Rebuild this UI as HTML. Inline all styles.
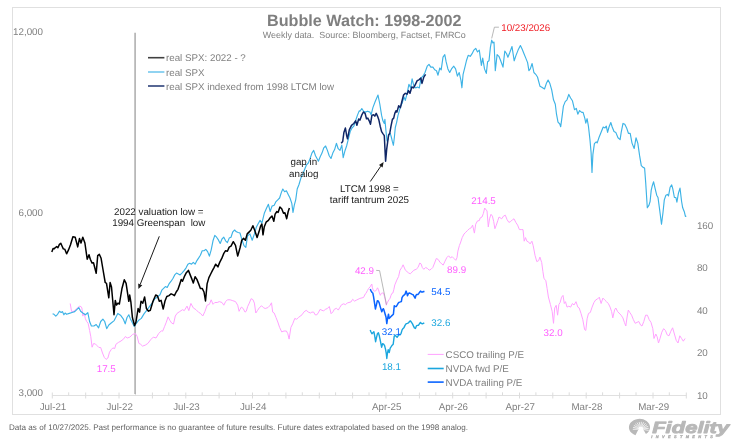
<!DOCTYPE html>
<html><head><meta charset="utf-8"><style>
html,body{margin:0;padding:0;background:#fff;width:749px;height:445px;overflow:hidden}
svg{display:block;font-family:'Liberation Sans', Arial, sans-serif;text-rendering:geometricPrecision;will-change:transform}
text{white-space:pre}
</style></head><body>
<svg width="749" height="445" viewBox="0 0 749 445">
<rect width="749" height="445" fill="#fff"/>
<rect x="12.5" y="7.5" width="708" height="407" fill="none" stroke="#e0e0e0" stroke-width="1"/>
<text x="267.0" y="25.8" font-size="16.2" font-weight="bold" fill="#7f7f7f">Bubble Watch: 1998-2002</text>
<text x="262.8" y="37.9" font-size="8.95" fill="#7f7f7f" xml:space="preserve">Weekly data.  Source: Bloomberg, Factset, FMRCo</text>
<text x="43" y="35.2" font-size="9.8" fill="#808080" text-anchor="end">12,000</text>
<text x="43" y="215.6" font-size="9.8" fill="#808080" text-anchor="end">6,000</text>
<text x="43" y="396.2" font-size="9.8" fill="#808080" text-anchor="end">3,000</text>
<text x="696.9" y="229.0" font-size="9.8" fill="#808080">160</text>
<text x="696.9" y="271.4" font-size="9.8" fill="#808080">80</text>
<text x="696.9" y="313.8" font-size="9.8" fill="#808080">40</text>
<text x="696.9" y="356.2" font-size="9.8" fill="#808080">20</text>
<text x="696.9" y="398.6" font-size="9.8" fill="#808080">10</text>
<line x1="52.3" y1="395.5" x2="686.6" y2="395.5" stroke="#e0e0e0" stroke-width="1"/>
<path d="M52.3,392.5V398.5 M68.7,392.3V395.5 M85.7,392.5V398.5 M102.1,392.3V395.5 M119.0,392.5V398.5 M135.4,392.3V395.5 M152.4,392.5V398.5 M168.8,392.3V395.5 M185.8,392.5V398.5 M202.2,392.3V395.5 M219.1,392.5V398.5 M235.5,392.3V395.5 M252.5,392.5V398.5 M268.9,392.3V395.5 M285.9,392.5V398.5 M302.3,392.3V395.5 M319.3,392.5V398.5 M335.6,392.3V395.5 M352.6,392.5V398.5 M369.0,392.3V395.5 M386.0,392.5V398.5 M402.4,392.3V395.5 M419.4,392.5V398.5 M435.8,392.3V395.5 M452.7,392.5V398.5 M469.1,392.3V395.5 M486.1,392.5V398.5 M502.5,392.3V395.5 M519.5,392.5V398.5 M535.9,392.3V395.5 M552.8,392.5V398.5 M569.2,392.3V395.5 M586.2,392.5V398.5 M602.6,392.3V395.5 M619.6,392.5V398.5 M636.0,392.3V395.5 M653.0,392.5V398.5 M669.3,392.3V395.5 M686.3,392.5V398.5" stroke="#dcdcdc" stroke-width="1" fill="none"/>
<text x="53.0" y="410.1" font-size="9.75" fill="#808080" text-anchor="middle">Jul-21</text>
<text x="119.7" y="410.1" font-size="9.75" fill="#808080" text-anchor="middle">Jul-22</text>
<text x="186.5" y="410.1" font-size="9.75" fill="#808080" text-anchor="middle">Jul-23</text>
<text x="253.2" y="410.1" font-size="9.75" fill="#808080" text-anchor="middle">Jul-24</text>
<text x="386.7" y="410.1" font-size="9.75" fill="#808080" text-anchor="middle">Apr-25</text>
<text x="453.4" y="410.1" font-size="9.75" fill="#808080" text-anchor="middle">Apr-26</text>
<text x="520.2" y="410.1" font-size="9.75" fill="#808080" text-anchor="middle">Apr-27</text>
<text x="586.9" y="410.1" font-size="9.75" fill="#808080" text-anchor="middle">Mar-28</text>
<text x="653.7" y="410.1" font-size="9.75" fill="#808080" text-anchor="middle">Mar-29</text>
<line x1="135.1" y1="32.7" x2="135.1" y2="394" stroke="#b0b0b0" stroke-width="1.6"/>
<polyline points="70.2,303.5 71.6,311.6 73.8,311.2 76.5,308.9 79.2,306.2 81.0,306.5 81.9,308.0 82.8,316.1 84.2,313.4 85.4,318.8 86.7,321.5 88.1,323.3 89.6,330.4 90.8,336.7 92.1,347.2 93.5,343.6 95.3,343.9 97.1,345.7 98.9,347.5 100.7,347.5 102.5,353.0 104.3,357.4 106.1,359.4 107.9,358.0 109.5,352.2 111.3,349.5 112.9,347.9 114.7,348.6 115.9,344.3 118.3,342.5 121.0,341.0 123.7,338.9 125.4,336.5 127.2,338.0 129.9,337.1 132.6,334.4 135.3,333.5 137.1,336.2 138.9,343.4 140.7,344.3 142.5,346.1 145.2,345.2 147.9,343.4 150.6,339.8 153.3,337.1 156.0,338.0 158.7,333.5 161.4,330.8 162.7,331.2 164.5,326.7 166.3,322.2 168.1,316.9 169.9,320.4 171.7,323.1 173.5,324.0 175.3,316.0 177.1,313.3 179.8,311.5 182.5,309.7 184.3,310.6 187.0,306.1 188.8,310.6 190.9,303.4 193.3,307.9 196.0,309.7 198.7,312.4 200.4,313.3 202.8,316.0 204.9,311.5 207.1,305.2 209.4,304.3 211.2,299.8 213.0,304.3 214.8,302.5 217.2,302.5 219.3,301.6 222.0,302.5 223.8,305.2 225.6,301.6 227.4,299.8 230.1,299.8 232.8,300.7 235.5,301.6 237.7,305.2 239.1,311.3 240.0,309.4 241.4,307.1 243.2,308.5 245.0,312.1 246.3,311.2 247.6,306.7 249.3,303.1 251.1,298.7 252.9,299.6 254.4,303.1 255.8,313.0 257.6,310.3 259.4,307.6 261.6,305.8 263.4,307.6 265.2,308.5 267.9,307.6 269.7,305.8 271.5,302.8 272.7,312.1 274.2,313.0 276.0,317.5 277.8,322.0 279.6,327.4 281.7,331.9 284.0,331.0 286.4,331.0 287.8,333.7 289.1,339.1 290.9,327.4 292.7,323.8 294.8,318.4 296.6,319.3 298.4,317.5 302.0,314.8 303.8,312.1 306.2,310.3 308.3,312.1 310.5,313.0 311.9,312.1 313.7,312.1 315.1,314.8 316.9,314.8 318.7,312.1 320.0,309.4 323.6,311.0 325.4,309.2 327.2,308.7 329.3,306.5 331.1,313.7 332.9,311.9 334.4,309.2 336.5,308.3 338.3,310.1 339.8,307.4 341.6,304.7 343.7,303.8 345.5,304.7 347.3,302.9 350.9,302.0 352.7,299.3 354.5,301.1 356.3,300.2 359.9,298.4 363.5,297.5 365.3,293.9 366.0,293.4 367.4,290.6 368.8,288.2 370.2,286.8 371.2,284.9 371.8,284.0 372.4,287.8 373.4,290.6 374.5,291.1 375.4,291.1 376.6,289.7 377.5,287.8 378.5,289.7 379.4,293.0 380.3,295.3 381.3,293.4 382.2,293.0 383.5,293.0 384.4,296.3 385.3,300.0 386.3,305.2 387.2,302.9 388.2,301.0 389.1,299.6 390.1,298.2 391.0,295.3 391.9,293.4 392.9,293.0 393.8,289.7 394.8,284.9 395.2,284.0 396.8,280.1 398.6,276.5 400.0,270.2 401.8,267.5 403.1,264.8 405.4,270.2 408.5,272.9 410.3,273.8 412.1,272.0 413.9,270.2 416.2,269.3 418.0,267.5 419.8,263.0 421.1,263.9 422.3,267.5 423.8,269.3 425.6,267.5 427.4,268.4 429.2,270.2 431.0,269.3 432.8,267.5 434.6,263.0 436.3,258.5 438.1,259.4 439.9,262.1 441.7,263.9 443.2,265.1 445.0,261.2 446.8,257.6 448.6,255.8 450.4,257.9 452.2,256.7 454.0,258.5 455.8,260.3 457.0,257.6 457.9,251.1 459.4,245.5 460.4,243.0 462.2,237.6 464.0,234.0 465.8,232.2 467.6,230.4 469.4,228.7 471.2,227.8 472.6,225.1 474.4,233.1 475.7,224.2 477.5,220.9 479.3,220.6 480.2,217.9 482.0,217.0 483.4,213.4 484.7,208.0 485.9,209.8 487.0,210.7 488.3,226.9 489.5,218.8 491.0,214.3 492.4,216.1 493.7,221.5 494.9,228.7 496.3,225.1 497.8,220.6 499.0,217.0 501.7,218.8 503.5,216.1 505.3,215.2 507.1,219.7 508.9,222.4 510.7,221.5 512.5,219.7 514.0,218.8 515.8,222.4 517.6,225.1 519.4,229.6 521.2,229.6 523.0,229.6 524.2,241.2 525.5,237.6 526.9,241.2 528.7,242.1 530.1,243.9 531.9,241.2 533.2,245.7 535.0,255.3 536.8,261.6 538.6,260.7 539.9,257.1 541.7,262.5 542.9,271.5 544.0,278.7 545.8,280.4 547.1,288.5 548.4,297.0 550.4,304.4 552.2,311.6 553.5,323.3 554.7,308.0 556.2,305.3 557.6,315.2 558.9,304.4 560.1,302.6 561.6,297.2 563.0,295.4 564.3,303.5 565.5,301.7 567.0,307.1 568.8,306.2 570.6,307.1 572.4,303.5 574.0,305.0 576.0,301.7 577.8,307.1 579.2,308.0 581.0,313.4 582.8,319.7 584.6,329.6 585.8,330.4 587.1,318.8 588.5,313.4 590.3,312.5 592.1,307.1 593.9,302.6 595.7,299.9 597.5,299.0 599.3,297.2 601.1,303.5 602.9,298.1 604.7,299.9 606.5,301.7 608.3,303.5 610.1,307.1 611.6,311.6 612.8,317.9 614.6,309.8 615.8,308.0 617.6,311.6 621.1,315.2 622.9,317.9 624.4,322.4 625.8,326.0 627.1,317.0 628.3,310.1 629.8,312.5 631.6,315.2 633.4,319.7 635.2,323.3 637.0,322.4 638.8,321.5 640.6,325.1 642.0,326.0 643.8,321.5 645.6,315.2 647.4,315.2 649.2,319.7 651.0,322.4 652.8,328.7 654.0,338.5 655.8,334.0 657.1,336.7 658.5,343.0 660.0,338.5 661.8,332.2 663.6,328.7 665.4,330.4 667.2,334.9 669.0,335.8 670.8,331.3 672.6,327.8 674.4,334.0 676.2,340.3 678.0,343.0 679.8,335.8 681.6,338.5 683.3,341.2 685.1,338.5" fill="none" stroke="#ffa2ff" stroke-width="1" stroke-linejoin="round"/>
<polyline points="52.6,313.7 54.0,314.3 55.8,316.1 57.6,314.3 59.4,311.2 61.2,312.5 62.4,311.6 63.9,314.8 65.1,313.0 66.6,314.3 69.3,313.4 72.0,312.5 74.7,311.6 76.5,309.8 78.8,307.6 80.6,311.2 82.8,313.0 85.4,314.8 87.8,312.7 89.6,321.5 91.4,326.0 93.9,326.0 96.2,324.5 98.6,327.8 100.7,321.5 102.9,319.1 104.7,321.5 106.7,328.7 108.8,325.0 111.5,322.7 114.2,320.6 116.0,317.0 117.8,313.4 120.5,315.2 123.2,318.8 125.2,323.8 127.0,317.5 128.8,314.8 130.2,318.4 131.5,321.1 134.2,326.5 136.0,323.8 138.7,320.2 141.3,318.4 144.0,313.9 146.7,310.3 149.4,306.7 152.1,303.1 154.8,298.7 157.5,296.9 160.0,294.7 161.8,290.2 163.6,288.4 165.4,286.6 167.2,287.5 169.0,283.9 171.1,281.2 172.9,278.5 174.7,274.9 176.5,273.1 178.3,274.0 180.1,274.9 181.9,273.1 184.3,270.4 186.1,267.8 187.9,264.2 189.7,263.3 191.5,264.2 193.3,262.4 195.1,264.2 196.9,260.6 198.7,257.9 200.4,255.2 202.2,250.7 204.0,250.7 205.8,249.4 207.6,251.6 209.4,256.1 211.2,249.8 213.0,240.8 214.8,235.4 216.6,237.2 218.4,239.9 220.2,243.5 222.0,239.0 223.8,237.2 225.6,240.8 227.4,242.6 229.2,238.1 231.0,237.2 232.8,231.8 234.6,230.0 236.4,231.8 238.2,232.5 240.0,233.0 241.8,239.3 244.0,245.6 245.8,247.4 247.6,235.7 249.9,233.9 252.2,240.2 254.4,233.9 256.2,227.6 258.0,224.0 260.1,220.4 261.9,223.1 264.3,213.3 266.6,207.9 268.4,204.3 270.2,211.5 272.0,206.1 274.2,205.2 276.0,201.6 277.8,199.8 279.6,198.0 281.3,192.6 282.8,189.0 284.6,191.7 286.4,190.8 288.2,194.4 290.0,198.0 291.8,203.4 293.0,212.4 294.3,205.2 295.7,199.8 297.2,189.0 299.0,184.5 300.8,178.3 302.9,173.8 304.7,169.3 306.5,164.8 308.3,163.0 310.1,158.5 311.9,153.1 313.7,150.4 315.5,155.8 317.0,158.5 318.4,161.2 320.2,156.7 322.0,153.1 323.8,147.8 325.6,146.0 327.4,150.4 329.2,155.8 331.0,158.5 332.8,153.1 334.6,149.6 336.4,143.3 338.2,148.7 340.0,150.4 341.8,145.1 343.2,157.6 344.8,151.3 346.6,146.0 348.4,138.8 350.2,131.6 352.0,128.0 353.8,126.2 355.6,120.8 357.4,115.4 359.2,110.9 360.0,111.2 361.8,108.5 363.6,111.2 365.4,112.1 367.6,111.2 369.9,112.1 371.1,114.8 372.9,107.6 375.3,101.3 378.0,95.1 379.8,104.0 381.6,115.4 382.9,120.8 384.3,123.5 384.9,119.4 385.9,130.2 387.0,141.0 388.0,139.7 389.0,134.3 390.3,133.6 391.3,137.0 392.4,141.7 393.4,145.3 394.4,137.0 395.3,127.5 396.7,122.1 398.0,115.4 399.4,110.7 400.4,106.7 402.2,103.1 404.0,96.9 405.3,100.4 407.1,93.3 408.9,84.3 410.7,87.9 412.1,78.9 413.9,86.1 415.7,87.9 417.5,87.0 419.3,87.9 421.1,78.0 422.9,76.2 425.0,72.5 427.2,66.2 429.0,64.4 430.8,67.1 432.9,67.1 434.7,69.8 436.5,70.7 438.0,75.2 439.8,68.0 441.2,69.8 443.0,57.2 444.8,54.6 446.1,61.7 447.9,68.9 449.7,72.5 451.5,68.9 453.8,66.2 455.6,68.9 457.4,76.1 459.2,72.5 461.0,80.6 461.9,87.8 463.1,74.3 464.9,67.1 466.4,60.8 468.2,55.4 470.3,56.3 472.1,53.7 473.9,50.1 475.7,48.3 477.5,51.9 479.3,50.1 481.4,65.3 482.7,58.1 484.5,68.9 486.3,73.4 487.6,61.7 489.0,60.8 490.4,47.4 491.7,40.2 492.9,42.9 494.0,42.0 495.3,70.7 497.1,54.6 498.9,56.3 500.7,60.8 503.0,67.1 504.8,51.0 506.6,53.7 507.9,57.2 509.7,52.8 512.0,46.5 514.2,60.8 516.0,55.4 518.1,50.1 520.4,45.6 522.2,49.2 524.0,53.7 525.8,58.1 527.6,62.6 528.9,70.7 530.3,68.9 532.1,63.5 533.9,72.5 535.7,74.3 537.5,77.0 540.0,86.3 541.8,87.2 544.5,89.0 546.3,83.6 548.1,80.0 549.9,83.6 551.7,89.9 553.5,99.8 555.3,104.3 556.5,114.2 558.0,122.2 559.8,124.0 560.7,126.7 561.9,117.8 563.4,106.1 565.2,101.6 567.0,99.8 568.8,94.4 570.6,98.0 572.4,100.7 574.5,109.7 576.3,108.4 577.8,114.2 579.6,110.6 581.7,112.4 583.1,112.4 584.9,118.7 585.8,123.1 587.1,118.7 588.5,126.7 590.0,140.2 591.1,152.6 592.0,172.4 592.9,154.4 594.4,143.6 596.2,141.8 597.2,142.9 599.0,137.5 601.4,131.5 603.2,127.0 605.0,127.9 606.3,126.1 607.6,132.4 609.0,127.0 610.8,122.5 612.2,127.0 614.0,131.5 615.8,132.4 618.0,137.8 620.1,139.6 621.2,132.4 623.0,123.4 624.8,124.3 626.6,127.9 628.4,133.3 630.2,133.3 632.0,143.1 634.2,148.5 636.0,137.8 637.8,143.1 639.6,155.7 641.3,165.6 643.1,167.4 644.6,168.0 645.7,182.6 647.3,207.8 648.9,205.4 650.1,201.5 651.2,190.4 652.3,185.7 653.6,181.8 655.2,188.9 656.7,195.2 658.0,197.5 659.6,209.3 661.5,224.3 663.0,212.5 664.3,199.9 665.9,195.2 667.4,194.4 668.5,196.0 670.1,187.3 671.7,184.9 672.8,188.9 674.4,197.5 675.9,197.5 676.9,202.2 678.5,192.8 680.0,188.1 681.6,201.5 682.7,207.8 684.3,211.7 685.4,216.4 686.3,215.9" fill="none" stroke="#3db3e6" stroke-width="1.15" stroke-linejoin="round"/>
<polyline points="51.8,252.0 53.1,248.4 54.3,248.7 55.4,247.5 56.7,246.6 57.9,247.8 59.4,244.4 60.8,243.3 62.1,246.2 63.3,248.9 64.8,249.3 66.6,253.8 68.4,250.2 70.5,244.8 72.9,236.7 75.2,237.2 77.7,246.9 79.5,238.5 81.0,243.0 82.8,237.2 84.9,243.0 87.2,259.2 89.0,254.7 90.3,259.2 92.1,263.1 93.5,262.8 96.2,273.2 97.7,255.6 99.3,254.3 101.1,258.3 102.9,269.0 105.2,282.5 106.5,283.4 108.8,297.8 110.1,282.5 111.5,287.0 114.0,314.8 115.3,300.4 116.5,305.0 118.0,303.1 119.4,304.0 120.7,296.0 121.9,288.8 124.3,279.8 126.1,283.4 128.8,301.3 129.7,295.0 130.9,302.2 132.4,317.5 134.5,325.6 136.0,322.0 138.1,308.5 139.6,312.1 141.0,301.3 142.8,303.1 144.6,296.9 146.4,308.5 148.5,311.2 150.3,310.3 153.0,301.3 155.7,295.0 157.5,296.0 159.3,301.3 161.1,300.4 163.2,309.1 165.0,301.0 166.8,296.5 169.0,295.6 171.1,293.8 172.9,294.7 174.4,295.6 176.2,292.0 178.0,289.3 179.8,283.9 181.2,279.4 182.5,281.2 184.3,276.7 186.1,273.1 188.4,270.4 190.2,274.9 192.0,279.4 193.3,283.0 195.1,276.7 196.9,279.4 198.7,283.9 200.4,288.4 202.2,288.4 204.0,292.0 205.5,301.0 207.1,283.9 208.9,277.6 210.7,274.0 212.5,270.4 213.9,267.8 215.7,264.2 217.9,266.9 219.7,262.4 222.0,257.9 223.8,253.4 225.6,250.7 227.4,251.2 229.2,247.1 231.0,246.2 233.3,241.7 235.5,245.3 237.7,256.1 240.0,248.0 241.8,240.2 243.6,238.4 245.4,240.2 247.2,233.9 249.0,232.1 250.8,230.3 252.9,225.8 254.7,230.3 257.1,237.5 258.9,232.1 260.7,225.8 261.9,224.0 263.0,234.8 264.3,226.7 266.1,222.2 268.4,220.4 270.2,217.8 272.0,216.0 273.8,221.3 275.1,214.2 276.9,211.5 278.1,212.4 279.9,207.0 281.7,208.8 283.5,213.3 284.9,212.7 286.7,218.7 288.2,211.5 289.4,207.9" fill="none" stroke="#000000" stroke-width="1.5" stroke-linejoin="round"/>
<polyline points="341.2,143.3 342.7,141.5 343.9,132.5 345.4,128.0 346.6,135.2 347.5,138.8 349.3,129.8 351.5,125.3 353.8,123.5 355.6,120.8 356.9,125.3 358.7,119.0 360.0,120.1 361.6,115.4 363.4,112.0 365.1,113.4 366.5,118.8 367.8,118.1 369.2,120.8 370.5,124.2 371.9,115.4 373.5,114.7 374.8,116.1 376.2,113.4 377.5,116.1 378.9,120.1 380.2,126.2 381.6,131.6 382.9,133.6 384.3,135.6 384.9,147.8 385.6,161.2 386.7,149.1 387.6,142.4 388.6,134.9 389.7,133.6 391.0,126.2 392.4,119.4 393.7,118.1 394.8,113.4 396.1,110.7 396.9,112.1 398.7,105.8 400.4,107.6 401.7,102.2 403.5,95.1 405.3,93.3 407.1,94.2 408.5,90.6 410.0,93.3 411.8,87.0 413.6,87.9 415.4,84.3 417.2,80.7 419.0,79.8 420.8,78.0 422.0,83.4 423.8,77.1 425.6,74.4" fill="none" stroke="#0f2666" stroke-width="1.5" stroke-linejoin="round"/>
<polyline points="370.2,329.9 370.9,331.8 371.9,333.8 372.9,332.8 373.9,331.8 374.7,335.8 375.6,341.7 376.4,337.8 377.4,333.8 378.4,332.8 379.3,335.8 380.3,340.7 381.6,347.2 382.6,343.7 383.6,344.2 384.6,345.7 385.6,349.6 386.3,353.6 386.8,358.5 387.4,353.6 388.2,349.6 389.2,352.6 390.2,348.1 391.2,346.7 392.2,345.2 393.2,344.2 394.2,336.3 395.2,335.3 396.1,336.3 397.1,337.3 398.1,335.8 399.1,334.3 400.1,334.8 401.1,333.3 402.1,329.9 403.1,328.4 404.1,327.4 405.0,325.4 406.0,323.9 407.3,323.4 408.5,322.9 409.5,321.5 410.5,321.0 411.5,322.4 412.5,323.9 413.4,325.9 414.4,327.9 415.4,328.4 416.4,325.9 417.4,325.4 418.4,325.4 419.4,323.9 420.4,322.4 421.4,323.4 422.3,323.9 423.3,323.4 424.3,322.9" fill="none" stroke="#1aa6de" stroke-width="1.4" stroke-linejoin="round"/>
<polyline points="370.2,289.2 371.2,291.1 372.1,292.5 372.8,293.0 373.5,296.3 374.5,302.9 375.4,309.0 376.4,304.8 377.3,300.8 378.3,301.0 379.2,302.9 380.2,306.6 381.1,309.5 381.8,311.8 382.5,309.9 383.3,308.7 383.9,309.9 384.6,312.3 385.3,314.7 386.0,317.0 386.8,323.6 387.5,318.9 388.5,314.2 389.1,318.4 390.1,317.5 391.0,316.5 391.9,315.6 393.4,314.2 394.3,305.7 395.2,306.6 396.2,306.6 397.1,305.2 398.1,303.3 399.0,302.4 400.4,301.9 401.4,301.5 402.0,297.7 402.8,296.3 403.7,295.3 404.9,294.4 406.1,291.1 406.8,293.0 407.5,295.8 408.5,293.4 409.4,293.0 410.3,293.4 411.3,293.9 412.2,294.4 413.2,294.8 414.1,296.3 415.1,298.2 416.0,295.3 416.9,294.4 417.9,294.4 418.8,293.4 419.8,292.0 420.5,291.1 421.5,292.0 422.6,292.0 423.7,291.5 424.5,291.4" fill="none" stroke="#0a64ff" stroke-width="1.5" stroke-linejoin="round"/>
<line x1="148" y1="57.7" x2="164.4" y2="57.7" stroke="#404040" stroke-width="1.6"/>
<text x="166" y="61.2" font-size="9.78" fill="#808080">real SPX: 2022 - ?</text>
<line x1="148" y1="72" x2="164.4" y2="72" stroke="#3db3e6" stroke-width="1.15"/>
<text x="166" y="75.5" font-size="9.78" fill="#808080">real SPX</text>
<line x1="148" y1="86" x2="164.4" y2="86" stroke="#0f2666" stroke-width="1.4"/>
<text x="166" y="89.5" font-size="9.78" fill="#808080">real SPX indexed from 1998 LTCM low</text>
<line x1="427.7" y1="354.4" x2="443.7" y2="354.4" stroke="#ffa2ff" stroke-width="1"/>
<text x="445.6" y="357.9" font-size="9.8" fill="#808080">CSCO trailing P/E</text>
<line x1="427.7" y1="368.5" x2="443.7" y2="368.5" stroke="#1aa6de" stroke-width="1.6"/>
<text x="445.6" y="372.0" font-size="9.8" fill="#808080">NVDA fwd P/E</text>
<line x1="427.7" y1="382.1" x2="443.7" y2="382.1" stroke="#0a64ff" stroke-width="1.6"/>
<text x="445.6" y="385.6" font-size="9.8" fill="#808080">NVDA trailing P/E</text>
<text x="158.8" y="214.8" font-size="9.8" fill="#1a1a1a" text-anchor="middle">2022 valuation low =</text>
<text x="158.8" y="226.1" font-size="9.8" fill="#1a1a1a" text-anchor="middle" xml:space="preserve">1994 Greenspan  low</text>
<text x="303.8" y="165" font-size="9.8" fill="#1a1a1a" text-anchor="middle">gap in</text>
<text x="303.8" y="176.7" font-size="9.8" fill="#1a1a1a" text-anchor="middle">analog</text>
<text x="369.4" y="191.7" font-size="9.8" fill="#1a1a1a" text-anchor="middle">LTCM 1998 =</text>
<text x="369.4" y="202.9" font-size="9.8" fill="#1a1a1a" text-anchor="middle">tariff tantrum 2025</text>
<line x1="159.3" y1="236.3" x2="140.24" y2="284.35" stroke="#1a1a1a" stroke-width="1"/><polygon points="138.4,289 138.20,283.54 142.29,285.16" fill="#1a1a1a"/>
<line x1="370.3" y1="181.5" x2="380.77" y2="166.22" stroke="#1a1a1a" stroke-width="1"/><polygon points="383.6,162.1 382.59,167.47 378.96,164.98" fill="#1a1a1a"/>
<polyline points="491.7,38.4 494.4,27.2 498.9,27.2" fill="none" stroke="#a6a6a6" stroke-width="0.8"/>
<polyline points="376.2,270.4 379.6,270.6 386.5,304.7" fill="none" stroke="#a6a6a6" stroke-width="0.8"/>
<text x="96.7" y="372.4" font-size="9.8" fill="#ff5cff">17.5</text>
<text x="354.9" y="274.2" font-size="9.8" fill="#ff5cff">42.9</text>
<text x="447.1" y="272.8" font-size="9.8" fill="#ff5cff">89.9</text>
<text x="471.3" y="204.0" font-size="9.8" fill="#ff5cff">214.5</text>
<text x="543.6" y="335.6" font-size="9.8" fill="#ff5cff">32.0</text>
<text x="431.3" y="295.2" font-size="9.8" fill="#0a64ff">54.5</text>
<text x="431.3" y="326.4" font-size="9.8" fill="#1aa6de">32.6</text>
<text x="381.8" y="334.6" font-size="9.8" fill="#0a64ff">32.1</text>
<text x="381.9" y="370.3" font-size="9.8" fill="#1aa6de">18.1</text>
<text x="501.2" y="30.8" font-size="9.8" fill="#f01c24">10/23/2026</text>
<text x="9" y="429.6" font-size="8.11" fill="#5f5f5f">Data as of 10/27/2025. Past performance is no guarantee of future results. Future dates extrapolated based on the 1998 analog.</text>
<path d="M638.5999999999999,429.1 L635.50,435.18 A10.55,8.5 0 1 1 645.95,434.00 L643.0,429.1 Z" fill="#b8b8b8"/>
<path d="M638.20,429.19L632.80,429.35 M638.28,428.47L633.04,427.33 M638.55,427.80L633.87,425.45 M638.99,427.23L635.24,423.85 M639.58,426.80L637.04,422.65 M640.26,426.56L639.14,421.96 M640.98,426.51L641.36,421.82 M641.69,426.66L643.54,422.24 M642.33,427.00L645.50,423.19 M642.85,427.50L647.10,424.61 M643.21,428.13L648.22,426.37 M643.39,428.83L648.76,428.34 M643.36,429.55L648.68,430.37" stroke="#fff" stroke-width="0.75" stroke-linecap="butt" fill="none"/>
<path d="M638.0999999999999,429.1 A2.7,2.7 0 0 1 643.5,429.1 Z" fill="#fff"/>
<text x="652.2" y="432.6" font-size="16.2" font-weight="bold" font-style="italic" fill="#b8b8b8" stroke="#b8b8b8" stroke-width="0.9" stroke-linejoin="round" textLength="77" lengthAdjust="spacingAndGlyphs">Fidelity</text>
<text x="651.3" y="437.9" font-size="3.9" font-weight="bold" font-style="italic" fill="#adadad" stroke="#adadad" stroke-width="0.3" textLength="61.5" lengthAdjust="spacing">INVESTMENTS</text>
</svg>
</body></html>
